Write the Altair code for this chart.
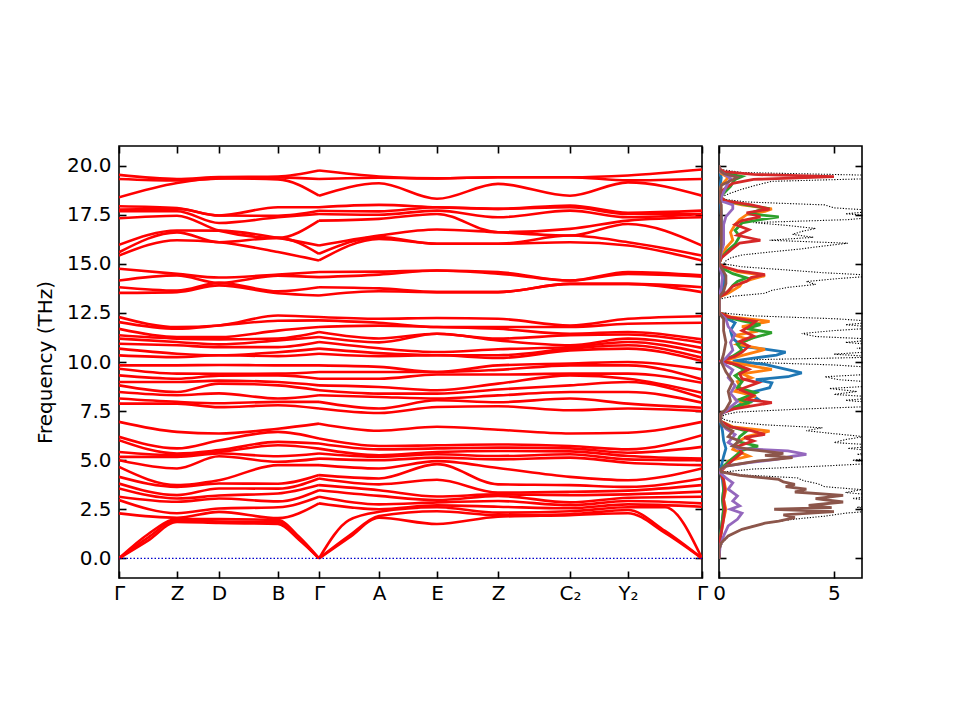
import altair as alt
import pandas as pd

FONT = "DejaVu Sans"

# ---------------- band structure ----------------
KPOS = [0.0, 0.58, 1.00, 1.59, 2.00, 2.60, 3.18, 3.79, 4.51, 5.09, 5.83]
KLABELS = ["Γ", "Z", "D", "B", "Γ", "A", "E", "Z", "C₂", "Y₂", "Γ"]
YTICKS = [0, 2.5, 5, 7.5, 10, 12.5, 15, 17.5, 20]
DOS_TICKS = [0, 5]
PATH_BREAK = 2.00  # the path restarts at the middle Γ

GAMMA_0 = [0, 0, 0, 2.29, 2.97, 3.14, 3.56, 3.81, 4.15, 4.66, 5.0, 5.17, 5.42, 6.02, 6.19, 6.95,
           7.88, 8.14, 8.47, 8.81, 8.98, 9.32, 9.66, 9.83,
           10.34, 10.68, 10.93, 11.19, 11.36, 11.69, 12.03, 12.29,
           13.52, 13.81, 14.15, 14.75, 15.42, 15.59, 15.97,
           17.32, 17.68, 17.76, 17.93, 18.39, 19.32, 19.53]
Z_1 = [1.86, 1.95, 2.0, 2.07, 2.3, 2.88, 3.05, 3.22, 3.64, 3.73, 4.58, 5.17, 5.25, 5.34, 5.6, 6.44,
       7.88, 7.97, 8.31, 8.47, 8.98, 9.15, 9.41, 9.83,
       10.25, 10.42, 10.85, 11.02, 11.19, 11.27, 11.69, 11.78,
       13.56, 13.64, 14.41, 14.49, 16.2, 16.6, 16.7,
       17.45, 17.68, 17.8, 17.84, 19.12, 19.24, 19.32]
D_2 = [1.8, 1.88, 2.0, 2.37, 2.54, 3.05, 3.2, 3.56, 3.81, 3.98, 5.2, 5.34, 5.42, 5.51, 6.0, 6.36,
       7.7, 7.9, 8.4, 8.9, 9.05, 9.3, 9.4, 9.85,
       10.34, 10.34, 10.76, 10.9, 11.15, 11.27, 11.86, 11.86,
       13.9, 14.03, 14.03, 14.3, 16.1, 16.1, 16.69,
       16.69, 17.08, 17.46, 17.46, 19.35, 19.35, 19.42]
B_3 = [1.75, 1.85, 1.95, 2.05, 2.6, 2.9, 3.3, 3.55, 3.8, 4.75, 4.92, 5.2, 5.76, 5.93, 6.44, 6.6,
       7.8, 7.97, 8.14, 8.81, 8.98, 9.32, 9.41, 9.83,
       10.3, 10.5, 10.76, 11.1, 11.2, 11.6, 12.1, 12.37,
       13.5, 13.6, 14.4, 14.45, 15.6, 16.32, 16.32,
       16.32, 17.37, 17.45, 17.88, 19.3, 19.4, 19.45]
GAMMA_4 = [0, 0, 0, 2.8, 3.14, 3.47, 3.73, 4.07, 4.24, 4.75, 5.08, 5.34, 5.59, 5.85, 6.1, 6.86,
           7.63, 7.97, 8.31, 8.56, 8.81, 9.15, 9.49, 9.83,
           10.42, 10.68, 11.02, 11.27, 11.53, 11.78, 12.12, 12.29,
           13.39, 13.81, 14.32, 14.58, 15.17, 15.51, 15.93,
           17.2, 17.54, 17.7, 17.88, 18.47, 19.32, 19.75]
A_5 = [2.07, 2.16, 2.37, 2.5, 2.75, 3.18, 3.47, 3.77, 4.07, 4.58, 5.0, 5.17, 5.25, 5.55, 5.72, 6.5,
       7.4, 7.63, 8.22, 8.39, 8.73, 9.15, 9.49, 9.75,
       10.3, 10.45, 10.7, 11.0, 11.2, 11.85, 12.0, 12.2,
       13.6, 13.75, 14.45, 14.6, 16.27, 16.36, 16.44,
       17.29, 17.5, 17.67, 18.0, 19.1, 19.38, 19.45]
E_6 = [1.75, 2.4, 2.6, 2.7, 2.85, 2.97, 3.15, 4.0, 4.8, 4.95, 5.13, 5.3, 5.42, 5.6, 5.76, 6.7,
       7.71, 8.05, 8.14, 8.39, 8.56, 9.36, 9.49, 9.49,
       10.34, 10.34, 10.51, 11.44, 11.44, 11.78, 11.78, 12.24,
       13.56, 13.56, 14.66, 14.66, 16.02, 16.02, 16.75,
       17.54, 17.71, 17.88, 17.88, 18.31, 19.35, 19.35]
Z_7 = [2.12, 2.2, 2.33, 2.63, 2.92, 3.18, 3.26, 3.35, 3.77, 4.6, 5.04, 5.21, 5.47, 5.64, 5.8, 6.55,
       7.75, 7.95, 8.3, 8.6, 8.9, 9.36, 9.6, 9.83,
       10.2, 10.34, 10.65, 11.1, 11.19, 11.69, 11.78, 12.2,
       13.56, 13.56, 14.5, 14.58, 16.02, 16.02, 16.61,
       16.61, 17.37, 17.8, 17.8, 19.07, 19.41, 19.41]
C2_8 = [2.2, 2.25, 2.4, 2.55, 2.71, 2.85, 3.22, 3.39, 3.73, 4.15, 5.13, 5.3, 5.45, 5.6, 5.72, 6.36,
        7.54, 8.14, 8.47, 8.81, 9.32, 9.41, 9.83, 9.92,
        10.59, 10.68, 10.76, 10.85, 11.36, 11.44, 11.78, 11.86,
        13.98, 13.98, 14.15, 14.15, 16.1, 16.44, 16.44,
        16.78, 17.71, 17.88, 17.97, 18.47, 19.41, 19.41]
Y2_9 = [2.3, 2.46, 2.6, 2.75, 2.92, 3.09, 3.26, 3.45, 3.64, 3.98, 4.87, 5.04, 5.21, 5.38, 5.55, 6.4,
        7.63, 7.88, 8.47, 8.98, 9.15, 9.41, 9.83, 10.0,
        10.68, 10.85, 11.02, 11.19, 11.4, 11.53, 11.95, 12.2,
        13.98, 13.98, 14.49, 14.58, 15.93, 16.1, 17.03,
        17.2, 17.37, 17.54, 17.6, 19.15, 19.25, 19.5]
GAMMA_10 = [0, 0, 0, 2.63, 2.8, 3.14, 3.4, 3.73, 4.07, 4.58, 4.75, 5.0, 5.08, 5.68, 6.27, 6.95,
            7.5, 7.67, 7.93, 8.18, 8.43, 8.94, 9.11, 9.62,
            10.05, 10.22, 10.47, 10.72, 10.98, 11.15, 12.0, 12.33,
            13.56, 13.81, 14.35, 14.41, 15.17, 15.42, 15.93,
            17.37, 17.54, 17.54, 17.71, 18.47, 19.32, 19.8]

POINT_FREQS = [GAMMA_0, Z_1, D_2, B_3, GAMMA_4, A_5, E_6, Z_7, C2_8, Y2_9, GAMMA_10]

# extra readings of the three acoustic branches near the Γ points
ACOUSTIC_K = [0.29, 1.80, 2.30, 5.46]
ACOUSTIC_F = [[0.9, 1.06, 1.23], [0.95, 1.0, 1.1], [1.05, 1.15, 1.95], [1.3, 1.4, 2.6]]

# ---------------- density of states (freq, dos) ----------------
TOTAL_DOS = [(0.0, 0), (0.5, 0.05), (0.8, 0.15), (1.1, 0.4), (1.4, 0.8), (1.6, 1.3), (1.8, 2.1), (2.0, 3.3),
             (2.15, 4.6), (2.3, 5.5), (2.45, 7.0), (2.6, 6.0), (2.75, 7.0), (2.9, 7.0), (3.05, 5.8),
             (3.2, 7.0), (3.35, 5.5), (3.5, 6.2), (3.65, 4.6), (3.8, 4.3), (3.95, 3.7), (4.1, 3.4),
             (4.25, 1.0), (4.4, 0.2), (4.55, 1.5), (4.7, 4.5), (4.85, 7.0), (5.0, 5.8), (5.15, 7.0),
             (5.3, 6.0), (5.45, 7.0), (5.6, 5.6), (5.75, 7.0), (5.9, 5.0), (6.05, 5.5), (6.2, 6.3),
             (6.35, 5.0), (6.5, 3.8), (6.65, 4.5), (6.8, 2.0), (6.95, 0.6), (7.1, 0.15), (7.3, 0.2),
             (7.45, 0.8), (7.6, 3.5), (7.75, 7.0), (7.9, 7.0), (8.05, 5.5), (8.2, 7.0), (8.35, 5.0),
             (8.5, 6.0), (8.65, 4.8), (8.8, 7.0), (8.95, 7.0), (9.1, 5.2), (9.25, 4.6), (9.4, 7.0),
             (9.55, 6.5), (9.7, 7.0), (9.85, 5.0), (10.0, 1.0), (10.1, 0.8), (10.25, 7.0), (10.4, 5.0),
             (10.55, 7.0), (10.7, 6.0), (10.85, 7.0), (11.0, 5.5), (11.15, 7.0), (11.3, 4.2),
             (11.45, 3.6), (11.6, 5.0), (11.75, 7.0), (11.9, 5.5), (12.05, 7.0), (12.2, 5.1),
             (12.35, 1.5), (12.5, 0.1), (12.6, 0), (13.2, 0), (13.35, 0.6), (13.5, 2.0), (13.65, 2.3),
             (13.8, 3.0), (13.95, 4.2), (14.1, 3.8), (14.25, 5.2), (14.4, 7.0), (14.55, 4.5),
             (14.7, 2.8), (14.85, 1.0), (15.0, 0.2), (15.15, 0.3), (15.3, 0.5), (15.45, 1.0),
             (15.6, 2.2), (15.75, 3.5), (15.9, 4.5), (16.05, 5.6), (16.2, 2.2), (16.35, 4.1),
             (16.5, 3.2), (16.65, 3.6), (16.8, 4.2), (16.95, 3.0), (17.1, 1.5), (17.25, 5.6),
             (17.4, 7.0), (17.55, 5.5), (17.7, 7.0), (17.85, 5.0), (18.0, 4.6), (18.15, 1.2),
             (18.3, 0.1), (18.4, 0.1), (18.6, 0.5), (18.8, 1.0), (19.0, 1.6), (19.2, 2.3),
             (19.35, 7.0), (19.5, 7.0), (19.65, 1.0), (19.8, 0.1), (20.0, 0)]

PDOS_C0 = [(0, 0), (1.0, 0.05), (2.0, 0.15), (2.5, 0.2), (3.0, 0.15), (3.5, 0.2), (4.0, 0.15), (4.4, 0.05),
           (4.7, 0.1), (5.2, 0.2), (5.6, 0.3), (6.0, 0.2), (6.5, 0.15), (7.0, 0.05), (7.4, 0.1),
           (7.59, 0.6), (7.84, 0.9), (8.1, 1.7), (8.43, 1.3), (8.69, 2.2), (8.94, 2.3), (9.1, 1.6),
           (9.25, 3.0), (9.45, 3.6), (9.71, 2.6), (9.88, 2.0), (10.05, 0.6), (10.2, 1.5), (10.35, 2.5),
           (10.5, 2.9), (10.65, 2.0), (10.8, 1.0), (11.2, 0.6), (11.6, 0.5), (12.0, 0.7), (12.3, 0.2),
           (12.5, 0), (13.3, 0), (13.6, 0.1), (14.0, 0.2), (14.4, 0.2), (14.8, 0.05), (15.0, 0),
           (15.5, 0.05), (16.5, 0.1), (17.5, 0.1), (18.2, 0.05), (18.5, 0), (19.4, 0.1), (19.7, 0), (20.0, 0)]
PDOS_C1 = [(0, 0), (1.0, 0.05), (2.0, 0.2), (2.5, 0.3), (3.0, 0.2), (3.5, 0.3), (4.0, 0.2), (4.4, 0.05),
           (4.7, 0.3), (4.96, 0.4), (5.21, 1.3), (5.55, 0.6), (5.9, 0.8), (6.2, 1.2), (6.48, 2.2),
           (6.7, 0.6), (7.0, 0.05), (7.4, 0.1), (7.6, 0.5), (7.84, 1.2), (8.05, 0.8), (8.26, 1.6),
           (8.5, 0.7), (8.77, 0.9), (9.0, 0.8), (9.2, 1.4), (9.4, 1.0), (9.62, 2.3), (9.85, 1.2),
           (10.05, 0.2), (10.3, 0.9), (10.64, 2.0), (10.9, 0.8), (11.15, 1.3), (11.35, 0.7),
           (11.57, 1.7), (11.8, 1.0), (12.07, 2.2), (12.3, 0.5), (12.5, 0), (13.3, 0), (13.5, 0.4),
           (13.86, 0.9), (14.04, 1.0), (14.2, 1.4), (14.4, 2.0), (14.6, 0.8), (14.85, 0.2), (15.0, 0),
           (15.3, 0.1), (15.8, 0.3), (16.2, 0.6), (16.6, 0.5), (17.0, 0.7), (17.25, 0.9), (17.5, 1.2),
           (17.67, 2.0), (17.8, 2.3), (18.0, 1.0), (18.2, 0.2), (18.4, 0), (19.0, 0.1), (19.4, 0.4),
           (19.6, 0.1), (19.8, 0), (20.0, 0)]
PDOS_C2 = [(0, 0), (1.0, 0.05), (2.0, 0.15), (2.5, 0.2), (3.0, 0.15), (3.5, 0.2), (4.0, 0.2), (4.4, 0.05),
           (4.7, 0.2), (5.0, 0.5), (5.3, 0.8), (5.5, 1.0), (5.72, 1.7), (5.95, 0.8), (6.2, 0.9),
           (6.48, 1.2), (6.7, 0.5), (7.0, 0.05), (7.4, 0.1), (7.6, 0.4), (7.93, 1.3), (8.1, 0.9),
           (8.43, 1.6), (8.7, 0.8), (9.0, 1.0), (9.3, 0.7), (9.6, 1.1), (9.9, 0.6), (10.05, 0.1),
           (10.3, 0.6), (10.6, 1.0), (10.9, 0.8), (11.2, 1.4), (11.49, 2.3), (11.7, 1.2), (11.9, 1.8),
           (12.1, 1.0), (12.3, 0.3), (12.5, 0), (13.3, 0), (13.6, 0.4), (13.9, 0.6), (14.1, 0.8),
           (14.28, 1.2), (14.5, 0.6), (14.8, 0.1), (15.0, 0), (15.3, 0.1), (15.7, 0.4), (16.0, 0.7),
           (16.4, 0.9), (16.7, 0.7), (17.08, 1.0), (17.25, 1.8), (17.39, 2.6), (17.55, 1.3),
           (17.84, 2.0), (18.0, 1.2), (18.2, 0.3), (18.4, 0.05), (18.95, 0.5), (19.3, 0.7),
           (19.45, 1.0), (19.6, 0.3), (19.8, 0), (20.0, 0)]
PDOS_C3 = [(0, 0), (1.0, 0.05), (2.0, 0.2), (2.5, 0.25), (3.0, 0.2), (3.5, 0.25), (4.0, 0.2), (4.4, 0.05),
           (4.7, 0.3), (5.0, 0.6), (5.38, 1.0), (5.7, 0.8), (5.98, 1.5), (6.15, 1.1), (6.31, 2.0),
           (6.5, 1.4), (6.7, 0.5), (7.0, 0.05), (7.4, 0.1), (7.6, 0.6), (7.93, 2.3), (8.1, 1.2),
           (8.3, 1.5), (8.6, 0.9), (8.94, 1.7), (9.15, 1.0), (9.4, 0.9), (9.62, 1.3), (9.85, 0.8),
           (10.05, 0.1), (10.3, 0.7), (10.5, 1.0), (10.81, 1.3), (11.05, 0.9), (11.32, 1.5),
           (11.6, 1.0), (11.8, 1.3), (12.07, 1.6), (12.3, 0.4), (12.5, 0), (13.3, 0), (13.5, 0.3),
           (13.86, 0.6), (14.11, 1.2), (14.3, 1.4), (14.45, 2.0), (14.65, 0.8), (14.85, 0.2),
           (15.0, 0), (15.3, 0.1), (15.7, 0.5), (16.06, 0.9), (16.2, 1.8), (16.45, 0.8), (16.74, 1.3),
           (17.0, 0.7), (17.2, 1.0), (17.39, 1.8), (17.6, 1.2), (17.79, 2.2), (18.0, 1.4), (18.2, 0.3),
           (18.4, 0.05), (18.7, 0.1), (19.1, 0.6), (19.3, 1.5), (19.44, 5.0), (19.55, 1.5),
           (19.7, 0.2), (19.85, 0), (20.0, 0)]
PDOS_C4 = [(0, 0), (0.63, 0.05), (1.14, 0.2), (1.65, 0.4), (1.99, 0.8), (2.3, 1.0), (2.5, 0.5), (2.67, 0.9),
           (2.92, 0.6), (3.18, 0.8), (3.52, 0.4), (3.85, 0.6), (4.1, 0.3), (4.36, 0.05), (4.5, 0.05),
           (4.7, 0.3), (4.87, 1.3), (5.04, 2.5), (5.2, 3.2), (5.3, 3.8), (5.47, 3.0), (5.6, 0.8),
           (5.9, 0.4), (6.3, 0.7), (6.6, 0.3), (7.0, 0.05), (7.3, 0.05), (7.6, 0.4), (8.0, 0.8),
           (8.4, 0.5), (8.8, 0.7), (9.2, 0.4), (9.6, 0.6), (10.0, 0.1), (10.2, 0.3), (10.6, 0.6),
           (11.0, 0.5), (11.4, 0.7), (11.8, 0.4), (12.2, 0.3), (12.5, 0), (13.3, 0), (13.8, 0.1),
           (14.3, 0.15), (14.8, 0.05), (15.0, 0), (15.6, 0.1), (16.0, 0.2), (16.5, 0.2), (17.0, 0.2),
           (17.4, 0.3), (17.8, 0.6), (18.0, 0.6), (18.2, 0.1), (18.4, 0.1), (18.9, 0.3), (19.35, 0.5),
           (19.6, 0.2), (19.75, 0), (20.0, 0)]
PDOS_C5 = [(0, 0), (0.46, 0), (0.8, 0.1), (1.14, 0.4), (1.48, 1.0), (1.79, 2.0), (1.9, 2.6), (2.07, 3.3),
           (2.21, 2.8), (2.38, 5.0), (2.5, 2.4), (2.58, 4.9), (2.7, 3.9), (2.87, 5.4), (3.04, 4.2),
           (3.21, 5.4), (3.38, 3.3), (3.52, 3.8), (3.65, 2.9), (3.77, 3.3), (3.89, 2.8), (4.02, 2.6),
           (4.23, 0.9), (4.4, 0.1), (4.53, 0.05), (4.7, 0.3), (4.96, 1.7), (5.13, 3.2), (5.25, 2.0),
           (5.35, 2.8), (5.55, 1.3), (5.72, 0.6), (5.98, 0.9), (6.2, 0.4), (6.48, 0.6), (6.74, 0.2),
           (7.0, 0.05), (7.3, 0.05), (7.6, 0.3), (8.0, 0.5), (8.5, 0.4), (9.0, 0.6), (9.5, 0.3),
           (10.0, 0.1), (10.4, 0.2), (11.0, 0.3), (11.6, 0.2), (12.2, 0.2), (12.5, 0), (13.3, 0),
           (13.6, 0.2), (14.0, 0.3), (14.4, 0.3), (14.8, 0.1), (15.0, 0), (15.5, 0.05), (16.0, 0.1),
           (16.5, 0.1), (17.0, 0.1), (17.5, 0.1), (18.0, 0.1), (18.3, 0), (18.6, 0.05), (19.0, 0.1),
           (19.4, 0.8), (19.6, 0.2), (19.8, 0), (20.0, 0)]

PDOS_SERIES = [("#1f77b4", PDOS_C0), ("#ff7f0e", PDOS_C1), ("#2ca02c", PDOS_C2),
               ("#d62728", PDOS_C3), ("#9467bd", PDOS_C4), ("#8c564b", PDOS_C5)]

# ---------------- tables ----------------
rows = []


def add_rows(k, freqs):
    segs = []
    if k <= PATH_BREAK:
        segs.append(0)
    if k >= PATH_BREAK:
        segs.append(1)
    for i, f in enumerate(sorted(freqs)):
        for s in segs:
            rows.append({"line": f"{i}-{s}", "k": k, "f": f})


for k, freqs in zip(KPOS, POINT_FREQS):
    add_rows(k, freqs)
for k, freqs in zip(ACOUSTIC_K, ACOUSTIC_F):
    add_rows(k, freqs)
df_bands = pd.DataFrame(rows).sort_values(["line", "k"])

# ---------------- scales & axes ----------------
xk = alt.Scale(domain=[0, 5.83], nice=False, zero=False)
yf = alt.Scale(domain=[-1.0, 21.0], nice=False, zero=False)
xd = alt.Scale(domain=[0, 6.22], nice=False, zero=False)

label_expr = "'" + KLABELS[-1] + "'"
for i in reversed(range(len(KPOS) - 1)):
    mid = round((KPOS[i] + KPOS[i + 1]) / 2, 4)
    label_expr = f"datum.value < {mid} ? '{KLABELS[i]}' : ({label_expr})"

common = dict(tickSize=7, offset=-7, domain=False, grid=False, tickColor="black", tickWidth=1.6)

x_bottom = alt.Axis(orient="bottom", values=KPOS, labelExpr=label_expr, labelFlush=False,
                    labelOverlap=False, labelPadding=5, labelFontSize=20, labelFont=FONT,
                    labelColor="black", title=None, **common)
x_top = alt.Axis(orient="top", values=KPOS, labels=False, title=None, **common)
y_left = alt.Axis(orient="left", values=YTICKS, format=".1f", labelPadding=8, labelFontSize=20,
                  labelFont=FONT, labelColor="black", labelOverlap=False, labelFlush=False,
                  title="Frequency (THz)", titleFontSize=20, titleFont=FONT,
                  titleFontWeight="normal", titleColor="black", titlePadding=11, **common)
y_right = alt.Axis(orient="right", values=YTICKS, labels=False, title=None, **common)

xd_bottom = alt.Axis(orient="bottom", values=DOS_TICKS, format="d", labelFlush=False,
                     labelOverlap=False, labelPadding=5, labelFontSize=20, labelFont=FONT,
                     labelColor="black", title=None, **common)
xd_top = alt.Axis(orient="top", values=DOS_TICKS, labels=False, title=None, **common)
yd_left = alt.Axis(orient="left", values=YTICKS, labels=False, title=None, **common)
yd_right = alt.Axis(orient="right", values=YTICKS, labels=False, title=None, **common)

# ---------------- left panel ----------------
bands = alt.Chart(df_bands).mark_line(
    color="#ff0000", strokeWidth=2.6, interpolate="monotone", clip=True
).encode(
    x=alt.X("k:Q", scale=xk, axis=x_bottom),
    y=alt.Y("f:Q", scale=yf, axis=y_left),
    detail="line:N",
    order="k:Q",
)
zero = alt.Chart(pd.DataFrame({"f": [0.0]})).mark_rule(
    color="#0000cc", strokeDash=[1.5, 2], strokeWidth=1.2
).encode(y=alt.Y("f:Q", scale=yf, axis=None))
frame_l = alt.Chart(pd.DataFrame({"k": [0.0], "f": [0.0]})).mark_point(opacity=0).encode(
    x=alt.X("k:Q", scale=xk, axis=x_top),
    y=alt.Y("f:Q", scale=yf, axis=y_right),
)
left = alt.layer(bands, zero, frame_l).resolve_axis(x="independent", y="independent").properties(
    width=583, height=432)

# ---------------- right panel ----------------
df_tot = pd.DataFrame(TOTAL_DOS, columns=["f", "d"])
tot = alt.Chart(df_tot).mark_line(color="black", strokeWidth=1.1, strokeDash=[1.2, 1.6], clip=True).encode(
    x=alt.X("d:Q", scale=xd, axis=xd_bottom),
    y=alt.Y("f:Q", scale=yf, axis=yd_left),
    order="f:Q",
)
layers = [tot]
for color, series in PDOS_SERIES:
    dfp = pd.DataFrame(series, columns=["f", "d"])
    layers.append(
        alt.Chart(dfp).mark_line(color=color, strokeWidth=2.8, clip=True).encode(
            x=alt.X("d:Q", scale=xd, axis=None),
            y=alt.Y("f:Q", scale=yf, axis=None),
            order="f:Q",
        )
    )
frame_r = alt.Chart(pd.DataFrame({"d": [0.0], "f": [0.0]})).mark_point(opacity=0).encode(
    x=alt.X("d:Q", scale=xd, axis=xd_top),
    y=alt.Y("f:Q", scale=yf, axis=yd_right),
)
layers.append(frame_r)
right = alt.layer(*layers).resolve_axis(x="independent", y="independent").properties(
    width=143, height=432)

chart = alt.hconcat(left, right, spacing=17, bounds="flush").properties(
    padding={"left": 26, "top": 136, "right": 5, "bottom": 5}
).configure_view(stroke="black", strokeWidth=1.6)

chart.save("out.html", embed_options={"renderer": "svg", "actions": False})
